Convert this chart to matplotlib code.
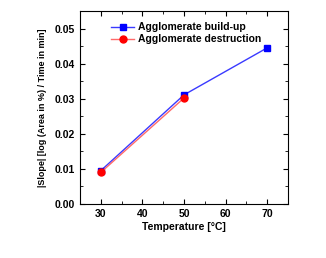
import matplotlib
matplotlib.use('Agg')
from matplotlib import pyplot as plt
from matplotlib.ticker import MultipleLocator

# data
temp_build = [30, 50, 70]
slope_build = [0.0095, 0.0311, 0.0445]
temp_destr = [30, 50]
slope_destr = [0.0090, 0.0302]

plt.rcParams['font.family'] = ['Liberation Sans', 'DejaVu Sans']
plt.rcParams['font.weight'] = 'bold'

fig = plt.figure(figsize=(3.26, 2.58), dpi=100)
ax = fig.add_axes([80/326, 1 - 204/258, 208/326, 193/258])

ax.plot(temp_build, slope_build, color='#3a3aff', lw=1, marker='s', ms=5,
        mfc='blue', mec='blue', label='Agglomerate build-up')
ax.plot(temp_destr, slope_destr, color='#ff6a6a', lw=1, marker='o', ms=5,
        mfc='red', mec='red', label='Agglomerate destruction')

ax.set_xlim(25, 75)
ax.set_ylim(0, 0.055)
ax.xaxis.set_major_locator(MultipleLocator(10))
ax.xaxis.set_minor_locator(MultipleLocator(5))
ax.yaxis.set_major_locator(MultipleLocator(0.01))
ax.yaxis.set_minor_locator(MultipleLocator(0.005))
ax.set_xticks([30, 40, 50, 60, 70])
ax.tick_params(which='both', direction='in', top=True, right=True, labelsize=7.5)
ax.tick_params(which='major', length=3.5, width=0.8)
ax.tick_params(which='minor', length=2, width=0.6)
ax.yaxis.set_major_formatter(matplotlib.ticker.FormatStrFormatter('%.2f'))
for sp in ax.spines.values():
    sp.set_linewidth(0.8)

ax.set_xlabel('Temperature [\u00b0C]', fontsize=7.5, fontweight='bold', labelpad=2)
ax.set_ylabel('|Slope| [log (Area in %) / Time in min]', fontsize=6.5,
              fontweight='bold', labelpad=6)

ax.legend(loc='upper left', bbox_to_anchor=(0.11, 0.985), frameon=False,
          fontsize=7.5, handlelength=2.2, borderpad=0.3, labelspacing=0.2,
          handletextpad=0.4)

fig.savefig('out.png', dpi=100)
